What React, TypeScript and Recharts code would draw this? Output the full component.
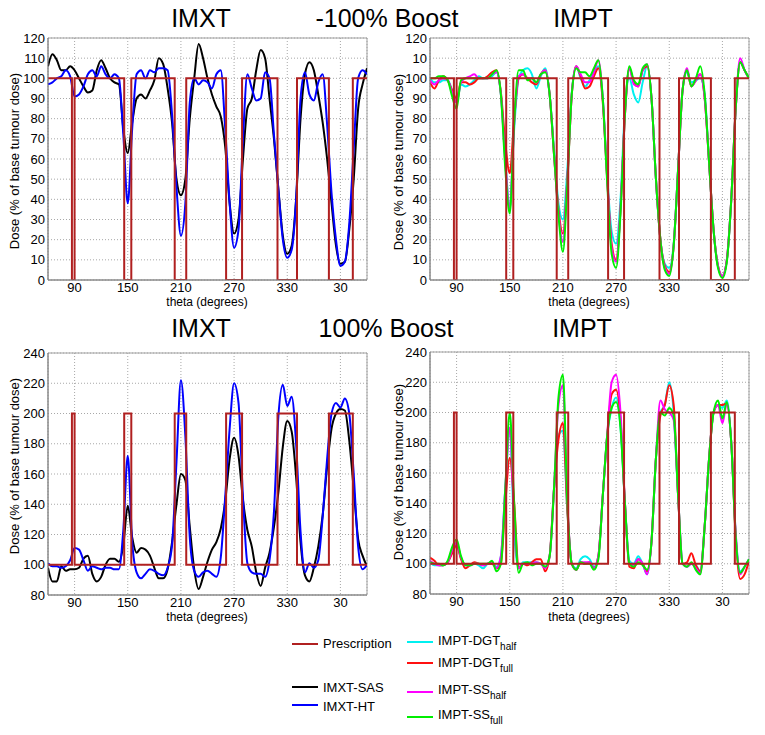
import React from "react";
import {
  LineChart,
  Line,
  XAxis,
  YAxis,
  CartesianGrid,
  ReferenceArea,
} from "recharts";

const FONT = "'Liberation Sans', Arial, Helvetica, sans-serif";

// gantry angle, degrees (wraps past 360)
const theta = [
  60, 65, 70, 75, 80, 85, 90, 95, 100, 105, 110, 115,
  120, 125, 130, 135, 140, 145, 150, 155, 160, 165, 170, 175,
  180, 185, 190, 195, 200, 205, 210, 215, 220, 225, 230, 235,
  240, 245, 250, 255, 260, 265, 270, 275, 280, 285, 290, 295,
  300, 305, 310, 315, 320, 325, 330, 335, 340, 345, 350, 355,
  360, 365, 370, 375, 380, 385, 390, 395, 400, 405, 410, 415,
  420,
];
const xTicks = [90, 150, 210, 270, 330, 390];
const lowTicks = [0, 10, 20, 30, 40, 50, 60, 70, 80, 90, 100, 110, 120];
const highTicks = [80, 100, 120, 140, 160, 180, 200, 220, 240];

// prescribed boost fields [start, end]
const fieldEdges = [
  [87, 90],
  [146, 154],
  [203, 216],
  [261, 279],
  [319, 341],
  [377, 404],
];

// -100% boost, IMXT
const sasMinus = [
  106, 112, 109, 104, 104, 106, 104, 100, 96, 93, 94, 104,
  109, 105, 100, 98, 97, 75, 63, 78, 90, 92, 90, 94,
  99, 110, 107, 95, 78, 50, 42, 50, 80, 100, 117, 110,
  100, 92, 86, 81, 66, 38, 23, 30, 60, 85, 90, 104,
  114, 110, 90, 70, 45, 22, 13, 17, 40, 80, 102, 108,
  104, 92, 78, 60, 38, 17, 8, 9, 25, 50, 85, 97,
  105,
];
const htMinus = [
  97, 98, 100, 101, 104, 101, 91, 92, 96, 102, 104, 101,
  106, 102, 100, 102, 100, 72, 38, 75, 102, 104, 100, 104,
  103, 105, 105, 104, 82, 46, 22, 38, 88, 100, 97, 99,
  98, 95, 102, 104, 75, 38, 16, 25, 70, 102, 95, 89,
  90, 103, 100, 72, 45, 20, 11, 15, 40, 90, 103, 92,
  89, 98, 102, 77, 43, 20, 7, 9, 28, 65, 100, 104,
  102,
];

// -100% boost, IMPT
const dgtHalfMinus = [
  100, 98, 98, 99, 99, 94, 88, 97, 96, 97, 99, 101,
  100, 100, 101, 103, 92, 60, 36, 75, 100, 104, 105, 102,
  95, 101, 105, 92, 65, 38, 30, 55, 93, 106, 100, 96,
  99, 103, 106, 90, 52, 24, 18, 40, 85, 100, 92, 88,
  98, 106, 90, 50, 20, 8, 6, 18, 55, 94, 103, 98,
  99, 100, 92, 58, 25, 7, 2, 10, 40, 85, 108, 104,
  100,
];
const dgtFullMinus = [
  98, 95, 99, 101, 99, 94, 90, 98, 98, 97, 98, 100,
  100, 101, 103, 104, 93, 68, 53, 80, 100, 102, 100, 98,
  97, 102, 104, 92, 62, 35, 23, 50, 92, 106, 101, 95,
  96, 101, 105, 88, 50, 18, 10, 35, 82, 105, 98, 96,
  104, 106, 90, 50, 20, 7, 4, 17, 55, 94, 104, 96,
  99, 102, 90, 58, 25, 7, 2, 10, 40, 85, 108, 104,
  100,
];
const ssHalfMinus = [
  99, 97, 99, 100, 99, 93, 88, 98, 100, 101, 102, 100,
  100, 100, 102, 103, 92, 58, 35, 78, 101, 102, 100, 100,
  98, 102, 104, 92, 62, 33, 19, 50, 92, 106, 102, 98,
  98, 103, 109, 90, 50, 16, 9, 35, 82, 105, 97, 96,
  104, 107, 90, 50, 20, 6, 3, 17, 55, 94, 105, 96,
  99, 102, 90, 58, 25, 7, 2, 10, 40, 85, 110, 104,
  100,
];
const ssFullMinus = [
  100, 100, 101, 101, 99, 91, 85, 99, 100, 100, 100, 100,
  100, 100, 102, 104, 92, 55, 33, 78, 104, 104, 99, 100,
  98, 102, 103, 92, 62, 32, 14, 48, 92, 105, 103, 103,
  101, 105, 109, 90, 48, 13, 6, 33, 82, 106, 99, 97,
  105, 107, 90, 50, 20, 5, 2, 17, 55, 94, 104, 96,
  100, 106, 92, 58, 25, 6, 1, 9, 40, 85, 108, 104,
  100,
];

// 100% boost, IMXT
const sasPlus = [
  98, 89, 89, 99, 96, 97, 97, 98, 104, 106, 94, 89,
  92, 100, 104, 104, 102, 113, 139, 118, 108, 111, 110, 106,
  98, 91, 91, 97, 115, 140, 160, 156, 125, 97, 84, 92,
  102, 110, 115, 124, 142, 170, 184, 172, 143, 123, 112, 95,
  86, 98, 108, 125, 148, 178, 195, 188, 158, 115, 93, 89,
  98, 112, 133, 165, 190, 200, 203, 202, 182, 150, 117, 106,
  99,
];
const htPlus = [
  101, 99, 99, 98, 99, 103, 111, 110, 103, 96, 99, 98,
  97, 98, 98, 97, 97, 123, 172, 115, 95, 91, 94, 97,
  96, 94, 93, 98, 113, 168, 222, 185, 118, 96, 92, 95,
  96, 94, 92, 105, 145, 190, 220, 207, 145, 101, 95, 94,
  94, 92, 103, 135, 198, 219, 205, 211, 180, 122, 95, 101,
  98, 103, 132, 170, 200, 207, 204, 210, 200, 160, 112, 97,
  100,
];

// 100% boost, IMPT
const dgtHalfPlus = [
  101, 99, 99, 99, 101, 108, 113, 104, 99, 99, 100, 99,
  97, 100, 101, 98, 105, 150, 190, 120, 97, 101, 101, 101,
  101, 100, 98, 105, 150, 185, 188, 135, 100, 97, 103, 105,
  103, 98, 105, 145, 185, 203, 210, 190, 140, 102, 100, 105,
  100, 93, 115, 170, 200, 205, 220, 200, 145, 100, 98, 100,
  99, 95, 125, 170, 200, 205, 203, 208, 180, 120, 95, 98,
  103,
];
const dgtFullPlus = [
  104, 102, 99, 99, 101, 107, 112, 103, 97, 99, 101, 100,
  99, 100, 100, 97, 100, 140, 170, 140, 97, 100, 99, 101,
  103, 103, 95, 105, 150, 182, 193, 135, 100, 96, 101, 100,
  101, 97, 105, 145, 185, 212, 215, 195, 140, 98, 97, 103,
  100, 95, 115, 170, 198, 205, 218, 205, 145, 100, 101, 107,
  99, 95, 125, 170, 200, 205, 205, 206, 180, 118, 90, 93,
  102,
];
const ssHalfPlus = [
  102, 100, 99, 99, 101, 109, 114, 104, 99, 99, 100, 100,
  99, 100, 101, 97, 105, 150, 190, 130, 97, 100, 100, 100,
  101, 100, 97, 105, 150, 205, 218, 140, 100, 96, 101, 101,
  101, 97, 105, 145, 185, 220, 225, 200, 140, 100, 99, 103,
  100, 93, 115, 170, 208, 202, 200, 195, 145, 100, 98, 100,
  97, 94, 125, 170, 200, 205, 193, 206, 180, 120, 93, 98,
  103,
];
const ssFullPlus = [
  101, 100, 100, 99, 102, 111, 116, 105, 99, 99, 100, 100,
  100, 100, 102, 95, 100, 150, 200, 140, 94, 100, 101, 99,
  100, 100, 98, 105, 150, 210, 225, 140, 100, 96, 101, 100,
  100, 96, 103, 145, 185, 203, 207, 190, 140, 100, 98, 101,
  99, 96, 115, 170, 200, 198, 203, 198, 145, 100, 98, 101,
  96, 93, 125, 170, 200, 208, 196, 207, 180, 118, 94, 98,
  103,
];

const PRESC = "#b02020";
const COLORS = {
  sas: "#000000",
  ht: "#0000ff",
  dgtHalf: "#00f0f0",
  dgtFull: "#ff1010",
  ssHalf: "#ff00ff",
  ssFull: "#00ee00",
};

function stepRows(base: number, boost: number) {
  const rows = [{ theta: 60, dose: base }];
  fieldEdges.forEach(([a, b]) => {
    rows.push(
      { theta: a, dose: base },
      { theta: a, dose: boost },
      { theta: b, dose: boost },
      { theta: b, dose: base }
    );
  });
  rows.push({ theta: 420, dose: base });
  return rows;
}

const minusRows = theta.map((t, i) => ({
  theta: t,
  sas: sasMinus[i],
  ht: htMinus[i],
  dgtHalf: dgtHalfMinus[i],
  dgtFull: dgtFullMinus[i],
  ssHalf: ssHalfMinus[i],
  ssFull: ssFullMinus[i],
}));
const plusRows = theta.map((t, i) => ({
  theta: t,
  sas: sasPlus[i],
  ht: htPlus[i],
  dgtHalf: dgtHalfPlus[i],
  dgtFull: dgtFullPlus[i],
  ssHalf: ssHalfPlus[i],
  ssFull: ssFullPlus[i],
}));

const fmtTheta = (v: number) => String(v >= 360 ? v - 360 : v);

function Panel({
  left,
  top,
  width,
  height,
  margin,
  rows,
  keys,
  domain,
  ticks,
  presc,
  yFormat,
}: any) {
  return (
    <div style={{ position: "absolute", left, top }}>
      <LineChart width={width} height={height} margin={margin} data={rows}>
        <CartesianGrid stroke="#a8a8a8" strokeDasharray="1 2" />
        <XAxis
          dataKey="theta"
          type="number"
          domain={[60, 420]}
          ticks={xTicks}
          interval={0}
          allowDataOverflow
          tickFormatter={fmtTheta}
          tickLine={false}
          tickSize={1}
          height={30}
          axisLine={{ stroke: "#808080" }}
          tick={{ fill: "#000", fontSize: 13, fontFamily: FONT }}
        />
        <YAxis
          type="number"
          domain={domain}
          ticks={ticks}
          interval={0}
          allowDataOverflow
          tickFormatter={yFormat}
          tickLine={false}
          tickSize={1}
          width={40}
          axisLine={{ stroke: "#808080" }}
          tick={{ fill: "#000", fontSize: 13, fontFamily: FONT }}
        />
        <ReferenceArea
          x1={60}
          x2={420}
          y1={domain[0]}
          y2={domain[1]}
          fill="none"
          stroke="#a0a0a0"
          ifOverflow="visible"
        />
        {keys.map((k: string) => (
          <Line
            key={k}
            dataKey={k}
            type="monotone"
            stroke={(COLORS as any)[k]}
            strokeWidth={2}
            dot={false}
            isAnimationActive={false}
          />
        ))}
        <Line
          data={presc}
          dataKey="dose"
          type="linear"
          stroke={PRESC}
          strokeWidth={2}
          dot={false}
          isAnimationActive={false}
        />
      </LineChart>
    </div>
  );
}

const legendItems = [
  { label: "Prescription", sub: "", color: PRESC, x: 292, y: 644, ty: 648 },
  { label: "IMXT-SAS", sub: "", color: COLORS.sas, x: 292, y: 687, ty: 692 },
  { label: "IMXT-HT", sub: "", color: COLORS.ht, x: 292, y: 705, ty: 711 },
  { label: "IMPT-DGT", sub: "half", color: COLORS.dgtHalf, x: 407, y: 642, ty: 645 },
  { label: "IMPT-DGT", sub: "full", color: COLORS.dgtFull, x: 407, y: 663, ty: 667 },
  { label: "IMPT-SS", sub: "half", color: COLORS.ssHalf, x: 407, y: 692, ty: 694 },
  { label: "IMPT-SS", sub: "full", color: COLORS.ssFull, x: 407, y: 717, ty: 719 },
];

const yLabel = "Dose (% of base tumour dose)";
const xLabel = "theta (degrees)";

export default function App() {
  const imxt = ["sas", "ht"];
  const impt = ["dgtHalf", "dgtFull", "ssHalf", "ssFull"];
  const lowPresc = stepRows(100, 0);
  const highPresc = stepRows(100, 200);
  return (
    <div
      style={{
        position: "absolute",
        left: 0,
        top: 0,
        width: 765,
        height: 735,
        background: "#fff",
        fontFamily: FONT,
      }}
    >
      <Panel
        left={0}
        top={0}
        width={380}
        height={310}
        margin={{ top: 38, right: 13, bottom: 0, left: 8 }}
        rows={minusRows}
        keys={imxt}
        domain={[0, 120]}
        ticks={lowTicks}
        presc={lowPresc}
      />
      <Panel
        left={380}
        top={0}
        width={385}
        height={310}
        margin={{ top: 38, right: 16, bottom: 0, left: 10 }}
        rows={minusRows}
        keys={impt}
        domain={[0, 120]}
        ticks={lowTicks}
        presc={lowPresc}
        yFormat={(v: number) => (v === 110 ? "10" : String(v))}
      />
      <Panel
        left={0}
        top={310}
        width={380}
        height={315}
        margin={{ top: 43, right: 13, bottom: 0, left: 8 }}
        rows={plusRows}
        keys={imxt}
        domain={[80, 240]}
        ticks={highTicks}
        presc={highPresc}
      />
      <Panel
        left={380}
        top={310}
        width={385}
        height={314}
        margin={{ top: 42, right: 16, bottom: 0, left: 10 }}
        rows={plusRows}
        keys={impt}
        domain={[80, 240]}
        ticks={highTicks}
        presc={highPresc}
      />
      <svg
        width={765}
        height={735}
        style={{ position: "absolute", left: 0, top: 0, pointerEvents: "none" }}
        fontFamily={FONT}
      >
        <g fontSize={25} textAnchor="middle" fill="#000">
          <text x={201} y={27}>IMXT</text>
          <text x={387} y={27}>-100% Boost</text>
          <text x={583} y={27}>IMPT</text>
          <text x={201} y={337}>IMXT</text>
          <text x={386} y={337}>100% Boost</text>
          <text x={582} y={337}>IMPT</text>
        </g>
        <g fontSize={13} textAnchor="middle" fill="#000">
          <text transform="translate(19,161) rotate(-90)">{yLabel}</text>
          <text transform="translate(403,162) rotate(-90)">{yLabel}</text>
          <text transform="translate(19,466) rotate(-90)">{yLabel}</text>
          <text transform="translate(403,472) rotate(-90)">{yLabel}</text>
        </g>
        <g fontSize={12} textAnchor="middle" fill="#000">
          <text x={207} y={306}>{xLabel}</text>
          <text x={589} y={306}>{xLabel}</text>
          <text x={207} y={621}>{xLabel}</text>
          <text x={589} y={621}>{xLabel}</text>
        </g>
        {legendItems.map((it, i) => (
          <g key={i}>
            <line
              x1={it.x}
              x2={it.x + 26}
              y1={it.y}
              y2={it.y}
              stroke={it.color}
              strokeWidth={2}
            />
            <text x={it.x + 31} y={it.ty} fontSize={13} fill="#000">
              {it.label}
              {it.sub ? (
                <tspan fontSize={10} dy={5}>
                  {it.sub}
                </tspan>
              ) : null}
            </text>
          </g>
        ))}
      </svg>
    </div>
  );
}
